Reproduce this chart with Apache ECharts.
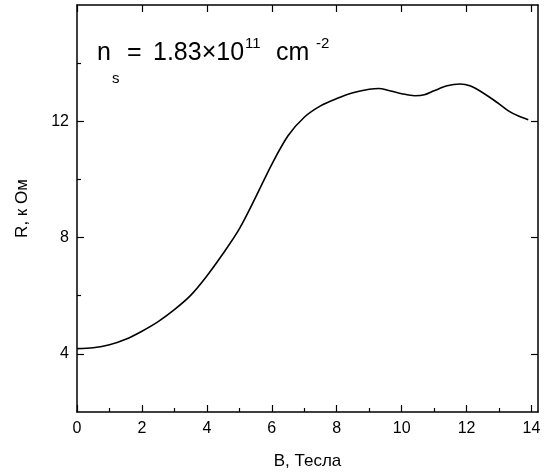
<!DOCTYPE html>
<html>
<head>
<meta charset="utf-8">
<script src="https://cdn.jsdelivr.net/npm/echarts@6/dist/echarts.min.js"></script>
<style>
  html, body { margin: 0; padding: 0; background: #fff; }
  #chart { width: 546px; height: 475px; }
</style>
</head>
<body>
<div id="chart"></div>
<script>
// magnetic field, T
const fieldB = [0, 0.5, 1.0, 1.5, 2.0, 2.5, 3.0, 3.5, 4.0, 4.5, 5.0, 5.5, 6.0, 6.5, 7.0, 7.5,
  8.0, 8.5, 9.0, 9.3, 9.6, 10.0, 10.4, 10.7, 11.0, 11.4, 11.8, 12.1, 12.5, 13.0, 13.3, 13.6, 13.9]
// resistance, kOhm
const resistance = [4.18, 4.21, 4.31, 4.50, 4.78, 5.11, 5.52, 6.01, 6.68, 7.45, 8.30, 9.38, 10.52, 11.50, 12.14, 12.53,
  12.78, 12.98, 13.10, 13.13, 13.06, 12.95, 12.88, 12.91, 13.05, 13.22, 13.28, 13.22, 12.98, 12.60, 12.35, 12.18, 12.05]

const xMajor = [0, 2, 4, 6, 8, 10, 12, 14]
const xMinor = [1, 3, 5, 7, 9, 11, 13]
const yMajor = [4, 8, 12]
const yMinor = [6, 10, 14]

const FONT = 'Arial, "Liberation Sans", sans-serif'
const X_MIN = 0, X_MAX = 14.2
const Y_MIN = 2, Y_MAX = 16

function baseAxis(extra) {
  return Object.assign({
    type: 'value',
    splitLine: { show: false },
    axisLine: { show: true, onZero: false, lineStyle: { color: '#000', width: 1.5 } },
    axisLabel: { show: false },
    axisTick: { show: true, inside: true, length: 7, lineStyle: { color: '#000', width: 1.2 } },
  }, extra)
}

const chart = echarts.init(document.getElementById('chart'), null, { renderer: 'canvas' })

chart.setOption({
  backgroundColor: '#fff',
  animation: false,
  grid: { left: 77, right: 8, top: 5, bottom: 62, containLabel: false },
  xAxis: [
    baseAxis({
      position: 'bottom', min: X_MIN, max: X_MAX,
      name: 'B, Тесла', nameLocation: 'middle', nameGap: 41,
      nameTextStyle: { color: '#000', fontSize: 17, fontFamily: FONT },
      axisLabel: { show: true, customValues: xMajor, margin: 9, color: '#000', fontSize: 16, fontFamily: FONT },
      axisTick: { show: true, inside: true, length: 7, customValues: xMajor, lineStyle: { color: '#000', width: 1.2 } },
    }),
    baseAxis({
      position: 'bottom', min: X_MIN, max: X_MAX,
      axisLine: { show: false },
      axisTick: { show: true, inside: true, length: 4, customValues: xMinor, lineStyle: { color: '#000', width: 1.2 } },
    }),
    baseAxis({
      position: 'top', min: X_MIN, max: X_MAX,
      axisTick: { show: true, inside: true, length: 7, customValues: xMajor, lineStyle: { color: '#000', width: 1.2 } },
    }),
  ],
  yAxis: [
    baseAxis({
      position: 'left', min: Y_MIN, max: Y_MAX,
      name: 'R, к Ом', nameLocation: 'middle', nameGap: 46, nameRotate: 90,
      nameTextStyle: { color: '#000', fontSize: 17, fontFamily: FONT },
      axisLabel: { show: true, customValues: yMajor, margin: 8, color: '#000', fontSize: 16, fontFamily: FONT },
      axisTick: { show: true, inside: true, length: 7, customValues: yMajor, lineStyle: { color: '#000', width: 1.2 } },
    }),
    baseAxis({
      position: 'left', min: Y_MIN, max: Y_MAX,
      axisLine: { show: false },
      axisTick: { show: true, inside: true, length: 4, customValues: yMinor, lineStyle: { color: '#000', width: 1.2 } },
    }),
    baseAxis({
      position: 'right', min: Y_MIN, max: Y_MAX,
      axisTick: { show: true, inside: true, length: 7, customValues: yMajor, lineStyle: { color: '#000', width: 1.2 } },
    }),
  ],
  series: [{
    type: 'line',
    xAxisIndex: 0,
    yAxisIndex: 0,
    data: fieldB.map((b, i) => [b, resistance[i]]),
    showSymbol: false,
    smooth: 0.3,
    lineStyle: { color: '#000', width: 1.6 },
    clip: true,
  }],
  graphic: [
    { type: 'text', left: 97, top: 41, style: { text: 'n', font: '25px ' + FONT, fill: '#000' } },
    { type: 'text', left: 112, top: 71, style: { text: 's', font: '15px ' + FONT, fill: '#000' } },
    { type: 'text', left: 127, top: 41, style: { text: '=', font: '25px ' + FONT, fill: '#000' } },
    { type: 'text', left: 153, top: 41, style: { text: '1.83×10', font: '25px ' + FONT, fill: '#000' } },
    { type: 'text', left: 245, top: 36, style: { text: '11', font: '15px ' + FONT, fill: '#000' } },
    { type: 'text', left: 276, top: 41, style: { text: 'cm', font: '25px ' + FONT, fill: '#000' } },
    { type: 'text', left: 316, top: 36, style: { text: '-2', font: '15px ' + FONT, fill: '#000' } },
  ],
})
</script>
</body>
</html>
